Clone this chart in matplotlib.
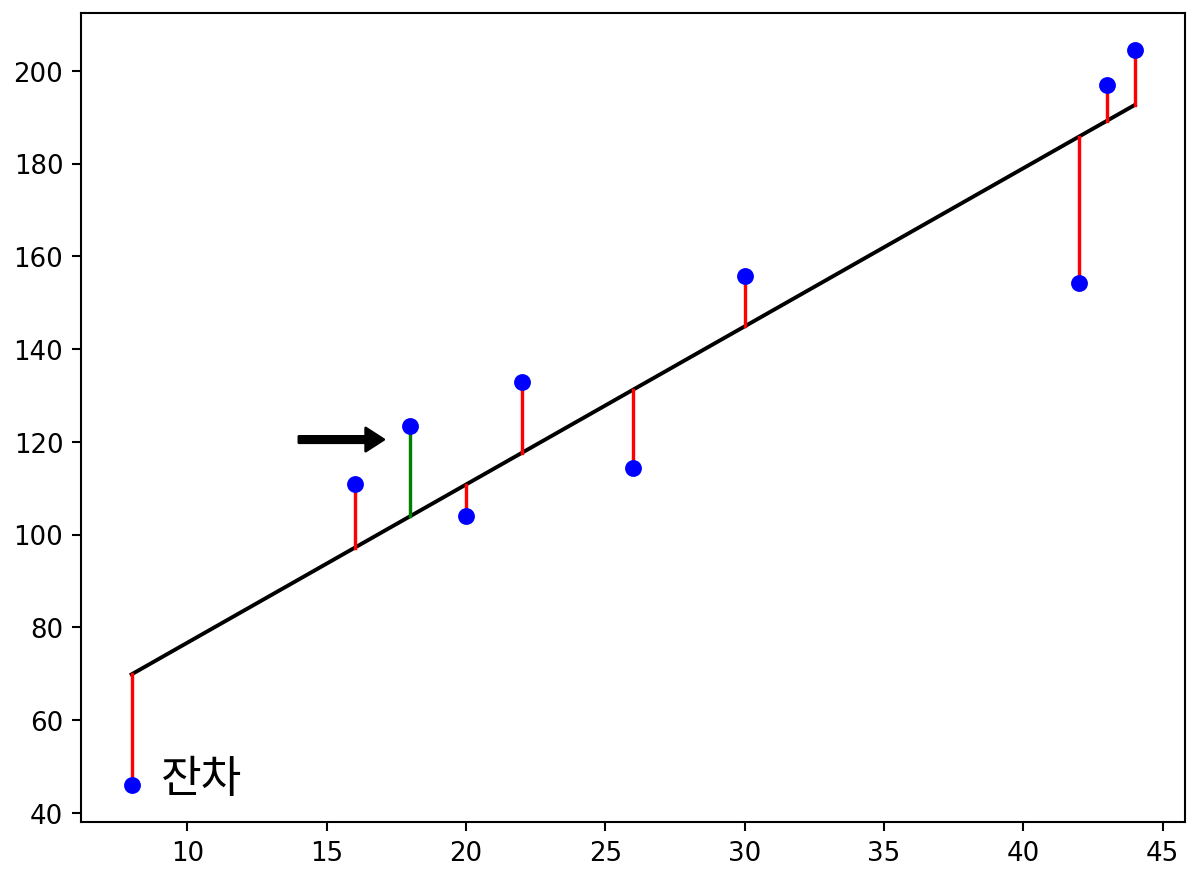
import numpy as np
import matplotlib.pyplot as plt

# 데이터
x = [8, 16, 18, 20, 22, 26, 30, 42, 43, 44]
y = [46, 111, 123.4, 104, 133, 114.3, 155.8, 154.3, 197, 204.5]
highlight = 18  # 초록색으로 표시된 잔차

# 회귀직선
a, b = np.polyfit(x, y, 1)
y_pred = [a * xi + b for xi in x]

fig = plt.figure(figsize=(6.4, 4.7), dpi=187.2)
fig.subplots_adjust(left=0.068, right=0.989, bottom=0.065, top=0.984)
ax = fig.add_subplot(111)

ax.scatter(x, y, color='blue', s=30, zorder=3)
ax.plot(x, y_pred, color='black')

for xi, yi, pi in zip(x, y, y_pred):
    c = 'green' if xi == highlight else 'red'
    ax.plot([xi, xi], [yi, pi], color=c, lw=1.3)

ax.annotate('', xy=(17.05, 120.5), xytext=(14, 120.5),
            arrowprops=dict(facecolor='black', edgecolor='black',
                            width=2.5, headwidth=9, headlength=7))
ax.text(9.05, 47.5, '잔차', fontsize=17, va='center', ha='left',
        weight='light', family=['Noto Sans CJK KR', 'DejaVu Sans'])

fig.savefig('out.png', dpi=187.2)
